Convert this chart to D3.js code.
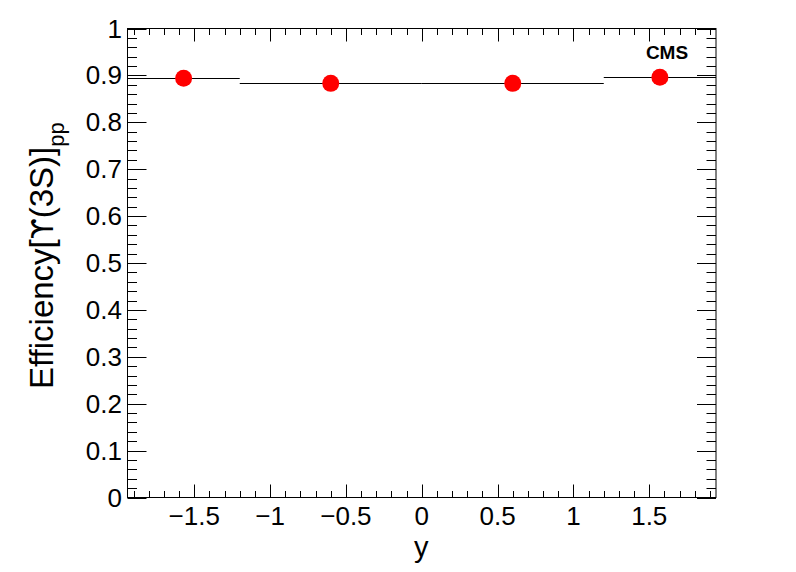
<!DOCTYPE html>
<html>
<head>
<meta charset="utf-8">
<script src="https://cdn.jsdelivr.net/npm/d3@7"></script>
<style>
  html, body { margin: 0; padding: 0; background: #fff; }
  svg { display: block; }
  text { font-family: "Liberation Sans", Arial, Helvetica, sans-serif; fill: #000; }
</style>
</head>
<body>
<svg id="chart" width="796" height="572"></svg>
<script>
// ---- data ----
const binLow   = [-1.94, -1.2, 0.0, 1.2];
const binHigh  = [-1.2, 0.0, 1.2, 1.94];
const yCenter  = [-1.57, -0.6, 0.6, 1.57];
const efficiency = [0.894, 0.883, 0.883, 0.896];
const xDomain = [-1.94, 1.94];
const yDomain = [0, 1];
const xTickValues = [-1.5, -1, -0.5, 0, 0.5, 1, 1.5];
const yTickValues = [0, 0.1, 0.2, 0.3, 0.4, 0.5, 0.6, 0.7, 0.8, 0.9, 1];
const xTitle = "y";
const yTitleParts = ["Efficiency[", "\u03D2", "(3S)]"];
const yTitleSub = "pp";
const label = "CMS";

// ---- layout ----
const L = 127.5, R = 716, T = 28.5, B = 497.5;
const svg = d3.select("#chart");
const x = d3.scaleLinear().domain(xDomain).range([L, R]);
const y = d3.scaleLinear().domain(yDomain).range([B, T]);

const fmt = v => (v < 0 ? "\u2212" : "") + d3.format("")(Math.abs(v));

const xMinor = d3.range(-19, 20).map(i => i / 10).filter(v => v >= xDomain[0] && v <= xDomain[1] && !xTickValues.some(t => Math.abs(t - v) < 1e-9));
const yMinor = d3.range(0, 51).map(i => i / 50).filter(v => !yTickValues.some(t => Math.abs(t - v) < 1e-9));

const g = svg.append("g");

// frame
g.append("rect").attr("x", L).attr("y", T).attr("width", R - L).attr("height", B - T)
  .attr("fill", "none").attr("stroke", "#000").attr("stroke-width", 1);

const tk = g.append("g").attr("stroke", "#000").attr("stroke-width", 1);
xTickValues.forEach(v => {
  const px = Math.round(x(v)) + 0.5;
  tk.append("line").attr("x1", px).attr("x2", px).attr("y1", B).attr("y2", B - 13);
  tk.append("line").attr("x1", px).attr("x2", px).attr("y1", T).attr("y2", T + 13);
});
xMinor.forEach(v => {
  const px = Math.round(x(v)) + 0.5;
  tk.append("line").attr("x1", px).attr("x2", px).attr("y1", B).attr("y2", B - 6.5);
  tk.append("line").attr("x1", px).attr("x2", px).attr("y1", T).attr("y2", T + 6.5);
});
yTickValues.forEach(v => {
  const py = Math.round(y(v)) + 0.5;
  tk.append("line").attr("x1", L).attr("x2", L + 19).attr("y1", py).attr("y2", py);
  tk.append("line").attr("x1", R).attr("x2", R - 19).attr("y1", py).attr("y2", py);
});
yMinor.forEach(v => {
  const py = Math.round(y(v)) + 0.5;
  tk.append("line").attr("x1", L).attr("x2", L + 9.5).attr("y1", py).attr("y2", py);
  tk.append("line").attr("x1", R).attr("x2", R - 9.5).attr("y1", py).attr("y2", py);
});

// tick labels
g.append("g").selectAll("text").data(xTickValues).join("text")
  .attr("x", d => x(d)).attr("y", 524.5).attr("text-anchor", "middle")
  .attr("font-size", 26).text(fmt);
g.append("g").selectAll("text").data(yTickValues).join("text")
  .attr("x", 122).attr("y", d => y(d) + 9).attr("text-anchor", "end")
  .attr("font-size", 26).text(d => d3.format("")(d));

// axis titles
g.append("text").attr("x", (L + R) / 2 - 0.5).attr("y", 557).attr("text-anchor", "middle")
  .attr("font-size", 29).text(xTitle);
const yt = g.append("text").attr("transform", `translate(53,389) rotate(-90)`)
  .attr("text-anchor", "start").attr("font-size", 33);
yt.append("tspan").text(yTitleParts[0]);
yt.append("tspan").attr("font-family", "DejaVu Sans").attr("font-size", 30).text(yTitleParts[1]);
yt.append("tspan").text(yTitleParts[2]);
yt.append("tspan").attr("font-size", 22).attr("dy", 11).text(yTitleSub);

// horizontal bin-width bars
g.append("g").selectAll("line").data(efficiency).join("line")
  .attr("x1", (d, i) => x(binLow[i])).attr("x2", (d, i) => x(binHigh[i]))
  .attr("y1", d => Math.round(y(d)) + 0.5).attr("y2", d => Math.round(y(d)) + 0.5)
  .attr("stroke", "#000").attr("stroke-width", 1.2);

// markers
g.append("g").selectAll("circle").data(efficiency).join("circle")
  .attr("cx", (d, i) => x(yCenter[i])).attr("cy", d => y(d)).attr("r", 8.5)
  .attr("fill", "#ff0000");

// CMS label
g.append("text").attr("x", 667).attr("y", 59).attr("text-anchor", "middle")
  .attr("font-size", 19).attr("font-weight", "bold").text(label);
</script>
</body>
</html>
